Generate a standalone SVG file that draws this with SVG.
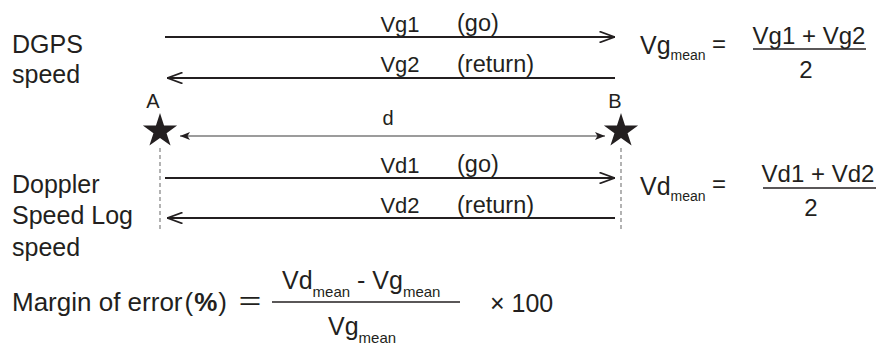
<svg xmlns="http://www.w3.org/2000/svg" width="886" height="349" viewBox="0 0 886 349">
<style>
text{font-family:"Liberation Sans",Arial,Helvetica,sans-serif;fill:#231f20}
.lbl{font-size:25px}
.sm{font-size:22px}
.par{font-size:23.5px}
.pt{font-size:20px}
.f{font-size:24px}
.sub{font-size:14px}
.cjk{font-family:"Noto Sans CJK JP","Liberation Sans",sans-serif}
.ln{stroke:#231f20;stroke-width:2;fill:none}
.thin{stroke:#3a3a3a;stroke-width:1.2;fill:none}
.dash{stroke:#808080;stroke-width:1.2;stroke-dasharray:4 3;fill:none}
.bar{stroke:#231f20;stroke-width:1.5}
</style>
<defs>
<marker id="open" viewBox="0 0 16 12" refX="16" refY="6" markerWidth="16" markerHeight="12" markerUnits="userSpaceOnUse" orient="auto">
<path d="M0.5,0.5 L15.5,6 L0.5,11.5" fill="none" stroke="#231f20" stroke-width="1.8"/>
</marker>
<marker id="solid" viewBox="0 0 10 8" refX="10" refY="4" markerWidth="10" markerHeight="8" markerUnits="userSpaceOnUse" orient="auto-start-reverse">
<path d="M0,0 L10,4 L0,8 L2.5,4 z" fill="#231f20"/>
</marker>
<path id="star" d="M0,-18 L4.04,-5.57 L17.12,-5.56 L6.54,2.13 L10.58,14.56 L0,6.88 L-10.58,14.56 L-6.54,2.13 L-17.12,-5.56 L-4.04,-5.57 Z" fill="#231f20"/>
</defs>

<g id="connectors">
<line id="vg1" class="ln" x1="165" y1="37" x2="615" y2="37" marker-end="url(#open)"/>
<line id="vg2" class="ln" x1="615" y1="78" x2="167" y2="78" marker-end="url(#open)"/>
<line id="dist" class="thin" x1="180" y1="136" x2="605" y2="136" marker-start="url(#solid)" marker-end="url(#solid)"/>
<line id="vd1" class="ln" x1="165" y1="178" x2="615" y2="178" marker-end="url(#open)"/>
<line id="vd2" class="ln" x1="615" y1="218" x2="167" y2="218" marker-end="url(#open)"/>
<line class="dash" x1="160" y1="148" x2="160" y2="232"/>
<line class="dash" x1="621" y1="148" x2="621" y2="232"/>
</g>

<g id="labels-left">
<text class="lbl" x="12" y="53">DGPS</text>
<text class="lbl" x="12" y="83">speed</text>
<text class="lbl" x="12" y="193">Doppler</text>
<text class="lbl" x="12" y="224">Speed Log</text>
<text class="lbl" x="12" y="256">speed</text>
</g>

<g id="edge-labels">
<text class="sm" x="400" y="32" text-anchor="middle">Vg1</text>
<text class="par" x="457" y="31">(go)</text>
<text class="sm" x="400" y="72" text-anchor="middle">Vg2</text>
<text class="par" x="457" y="72">(return)</text>
<text class="pt" x="388" y="125" text-anchor="middle">d</text>
<text class="sm" x="400" y="173" text-anchor="middle">Vd1</text>
<text class="par" x="457" y="172">(go)</text>
<text class="sm" x="400" y="213" text-anchor="middle">Vd2</text>
<text class="par" x="457" y="213">(return)</text>
</g>

<g id="pointA">
<use href="#star" x="160" y="131"/>
<text class="pt" x="153" y="108" text-anchor="middle">A</text>
</g>
<g id="pointB">
<use href="#star" x="621" y="131"/>
<text class="pt" x="615" y="108" text-anchor="middle">B</text>
</g>

<g id="vg-mean">
<text class="lbl" x="640" y="54">Vg<tspan class="sub" dy="6">mean</tspan></text>
<text class="f" x="712" y="52">=</text>
<text class="f" x="809" y="44" text-anchor="middle">Vg1 + Vg2</text>
<line class="bar" x1="753" y1="49" x2="866" y2="49"/>
<text class="f" x="806" y="78" text-anchor="middle">2</text>
</g>

<g id="vd-mean">
<text class="lbl" x="640" y="195">Vd<tspan class="sub" dy="6">mean</tspan></text>
<text class="f" x="712" y="192">=</text>
<text class="f" x="818" y="182" text-anchor="middle">Vd1 + Vd2</text>
<line class="bar" x1="763" y1="188" x2="876" y2="188"/>
<text class="f" x="811" y="216" text-anchor="middle">2</text>
</g>

<g id="margin">
<text class="lbl" x="12" y="311" style="font-size:26px">Margin of error<tspan dx="2">(</tspan><tspan font-weight="bold" dx="1">%</tspan><tspan dx="1">)</tspan><tspan class="cjk" dx="10">＝</tspan></text>
<text class="lbl" x="282" y="289">Vd<tspan style="font-size:15px" dy="8">mean</tspan><tspan dy="-8"> - Vg</tspan><tspan style="font-size:15px" dy="8">mean</tspan></text>
<line class="bar" x1="272" y1="302" x2="460" y2="302"/>
<text class="lbl" x="328" y="335">Vg<tspan style="font-size:15px" dy="8">mean</tspan></text>
<text class="lbl" x="490" y="312">× 100</text>
</g>
</svg>
